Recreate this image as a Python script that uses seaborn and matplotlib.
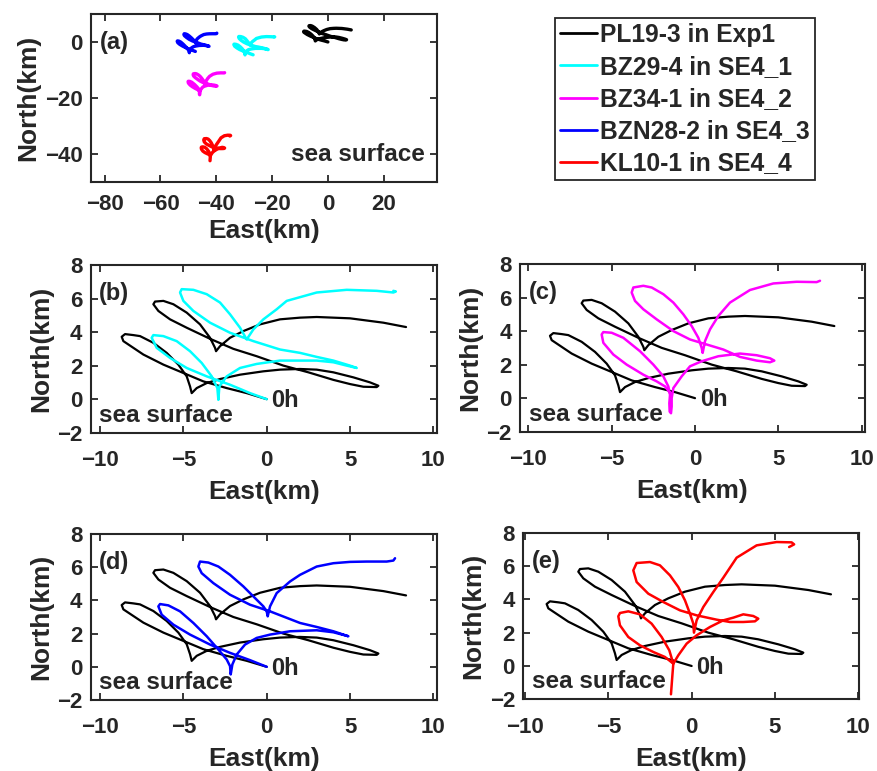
import matplotlib.pyplot as plt
import seaborn as sns
import numpy as np

# drifter tracks, km east/north of the 0h release point
exp1_east = [0, -1.2, -2.4, -3.8, -5.0, -6.2, -7.4, -8.6, -8.7, -8.5, -8.0, -7.6, -6.8, -6.0, -5.3, -4.8, -4.6, -4.5, -4.2, -3.6,
             -2.8, -1.6, -0.2, 0.8, 2.0, 3.0, 4.0, 5.2, 6.2, 6.7, 6.6, 5.8, 5.0, 4.0, 2.5, 1.0, -0.6, -2.0, -3.4, -4.8,
             -5.8, -6.5, -6.8, -6.7, -6.2, -5.6, -4.8, -4.0, -3.4, -3.1, -3.04, -2.8, -2.2, -1.4, -0.4, 0.8, 2.0, 3.0, 5.0, 7.0, 8.36]
exp1_north = [0, 0.36, 0.66, 1.06, 1.56, 2.06, 2.66, 3.46, 3.72, 3.88, 3.82, 3.76, 3.36, 2.76, 2.06, 1.36, 0.76, 0.36, 0.66, 0.96,
              1.2, 1.46, 1.66, 1.76, 1.8, 1.76, 1.6, 1.3, 1.0, 0.8, 0.72, 0.74, 0.9, 1.15, 1.6, 2.0, 2.56, 3.0, 3.6, 4.26,
              4.76, 5.26, 5.66, 5.82, 5.86, 5.66, 5.16, 4.46, 3.66, 3.06, 2.86, 3.16, 3.66, 4.06, 4.46, 4.76, 4.86, 4.9, 4.82, 4.56, 4.3]

se41_east = [0, -1.0, -2.2, -3.6, -4.8, -5.8, -6.6, -6.9, -6.8, -6.2, -5.4, -4.6, -3.9, -3.3, -2.96, -2.9, -2.84, -2.4, -1.6, -0.6,
             0.8, 2.0, 3.0, 4.0, 4.8, 5.4, 5.0, 4.0, 3.0, 2.0, 0.8, -0.8, -2.2, -3.4, -4.4, -5.0, -5.2, -5.1, -4.4, -3.6,
             -2.8, -2.2, -1.6, -1.2, -0.8, -0.2, 0.6, 1.2, 3.0, 4.8, 6.6, 7.6, 7.75, 7.6]
se41_north = [0, 0.36, 0.86, 1.36, 1.86, 2.46, 3.06, 3.66, 3.82, 3.76, 3.46, 2.86, 2.16, 1.36, 0.66, -0.04, 0.76, 1.36, 1.86, 2.1,
              2.3, 2.3, 2.3, 2.2, 2.0, 1.86, 2.0, 2.3, 2.52, 2.76, 2.96, 3.46, 3.96, 4.56, 5.26, 5.86, 6.36, 6.56, 6.52, 6.26,
              5.76, 5.06, 4.26, 3.56, 4.16, 4.76, 5.36, 5.86, 6.36, 6.52, 6.46, 6.36, 6.42, 6.46]

se42_east = [-1.45, -1.8, -2.3, -3.1, -4.1, -4.9, -5.5, -5.6, -5.5, -5.0, -4.3, -3.3, -2.5, -1.9, -1.6, -1.5, -1.54, -1.52, -1.44, -1.4,
             -1.4, -1.3, -0.8, -0.3, 0.4, 1.4, 2.7, 3.7, 4.5, 4.76, 4.5, 3.7, 2.7, 1.7, 0.7, -0.3, -1.3, -2.3, -3.1, -3.6,
             -3.8, -3.7, -3.1, -2.6, -1.9, -1.3, -0.7, -0.2, 0.2, 0.4, 0.46, 0.6, 0.9, 1.4, 2.1, 3.3, 4.7, 6.1, 7.3, 7.5]
se42_north = [0.25, 0.7, 1.0, 1.4, 2.0, 2.6, 3.3, 3.8, 3.94, 3.9, 3.6, 2.8, 2.0, 1.3, 0.7, 0.2, -0.3, -0.8, -0.9, -0.5,
              0.0, 0.6, 1.3, 1.9, 2.2, 2.5, 2.66, 2.56, 2.38, 2.24, 2.14, 2.24, 2.46, 2.9, 3.2, 3.5, 4.0, 4.7, 5.3, 5.8,
              6.3, 6.6, 6.7, 6.6, 6.2, 5.7, 5.0, 4.3, 3.6, 3.0, 2.7, 3.4, 4.1, 4.9, 5.7, 6.45, 6.84, 6.94, 6.92, 7.0]

se43_east = [0, -1.0, -2.2, -3.4, -4.6, -5.6, -6.3, -6.5, -6.4, -5.9, -5.2, -4.4, -3.6, -2.9, -2.4, -2.2, -2.16, -2.06, -1.8, -1.3,
             -0.6, 0.2, 1.4, 3.0, 4.0, 4.9, 4.0, 3.0, 2.0, 0.2, -1.0, -2.2, -3.2, -3.9, -4.1, -4.0, -3.5, -2.9, -2.2, -1.4,
             -0.7, -0.2, 0.0, 0.06, 0.2, 0.6, 1.4, 2.0, 3.0, 4.0, 5.0, 6.0, 7.2, 7.6, 7.7]
se43_north = [0, 0.4, 0.84, 1.34, 1.94, 2.54, 3.14, 3.64, 3.78, 3.7, 3.34, 2.64, 1.84, 1.04, 0.44, 0.04, -0.46, 0.14, 0.74, 1.34,
              1.74, 1.94, 2.14, 2.2, 2.08, 1.84, 2.14, 2.4, 2.64, 3.34, 3.74, 4.34, 5.04, 5.64, 6.04, 6.34, 6.28, 6.04, 5.54, 4.84,
              4.14, 3.64, 3.34, 3.04, 3.64, 4.44, 5.14, 5.54, 6.04, 6.24, 6.32, 6.34, 6.34, 6.4, 6.54]

se44_east = [-1.24, -1.15, -1.1, -1.6, -2.3, -3.1, -3.8, -4.3, -4.4, -4.3, -3.8, -3.1, -2.4, -1.8, -1.34, -1.1, -0.8, -0.3, 0.3, 1.1,
             1.9, 2.5, 3.1, 3.7, 4.0, 3.8, 3.1, 2.3, 1.5, 0.3, -0.7, -1.7, -2.6, -3.3, -3.5, -3.3, -2.5, -1.9, -1.3, -0.8,
             -0.4, -0.1, 0.1, 0.14, 0.3, 0.7, 1.3, 1.9, 2.7, 3.9, 5.1, 6.0, 6.15, 5.85]
se44_north = [-1.7, -0.5, 0.14, 0.54, 0.84, 1.24, 1.74, 2.44, 2.98, 3.18, 3.28, 3.1, 2.54, 1.74, 0.94, 0.14, 0.64, 1.34, 1.84, 2.34,
              2.74, 2.9, 3.1, 3.0, 2.84, 2.68, 2.64, 2.64, 2.78, 3.04, 3.34, 3.84, 4.34, 5.04, 5.74, 6.18, 6.24, 6.04, 5.44, 4.74,
              3.94, 3.14, 2.54, 2.0, 2.74, 3.54, 4.44, 5.3, 6.5, 7.24, 7.44, 7.42, 7.3, 7.14]

track_names = ['PL19-3 in Exp1', 'BZ29-4 in SE4_1', 'BZ34-1 in SE4_2', 'BZN28-2 in SE4_3', 'KL10-1 in SE4_4']
track_colors = ['black', '#00FFFF', '#FF00FF', '#0000FF', '#FF0000']
# release point of each drifter on the shared map of panel (a)
release_east = [0, -26.8, -44.5, -47.5, -41.0]
release_north = [0, -4.6, -18.0, -3.4, -40.8]

tracks_east = [exp1_east, se41_east, se42_east, se43_east, se44_east]
tracks_north = [exp1_north, se41_north, se42_north, se43_north, se44_north]

sns.set_style('ticks')
plt.rcParams['font.family'] = 'Liberation Sans'
plt.rcParams['font.weight'] = 'bold'
plt.rcParams['axes.labelweight'] = 'bold'

fig = plt.figure(figsize=(8.78, 7.71), dpi=100)

def add_panel(x0, y0, x1, y1):  # pixel box -> figure axes
    return fig.add_axes([x0/878, 1-y1/771, (x1-x0)/878, (y1-y0)/771])

def style(ax, xpad, labelpad):
    for s in ax.spines.values():
        s.set_linewidth(1.5)
        s.set_color('#262626')
    ax.tick_params(direction='in', length=5, width=1.3, top=True, right=True, labelsize=16, colors='#262626')
    ax.tick_params(axis='x', pad=xpad)
    ax.tick_params(axis='y', pad=6)
    ax.set_xlabel('East(km)', fontsize=19, labelpad=labelpad)
    ax.set_ylabel('North(km)', fontsize=19, labelpad=3)

#panel (a): all drifters on one map
ax_a = add_panel(90.7, 14, 436.7, 181.7)
for i in range(5):
    sns.lineplot(x=np.array(tracks_east[i])+release_east[i], y=np.array(tracks_north[i])+release_north[i],
                 sort=False, estimator=None, color=track_colors[i], lw=2.4, label=track_names[i], ax=ax_a)
ax_a.set_xlim(-85, 39)
ax_a.set_ylim(-50, 10)
ax_a.set_xticks([-80, -60, -40, -20, 0, 20])
ax_a.set_yticks([-40, -20, 0])
style(ax_a, 9, 3)
ax_a.text(0.027, 0.83, '(a)', transform=ax_a.transAxes, fontsize=17, va='center', ha='left')
ax_a.text(0.965, 0.16, 'sea surface', transform=ax_a.transAxes, fontsize=17.5, va='center', ha='right')
handles, labels = ax_a.get_legend_handles_labels()
if ax_a.get_legend() is not None:
    ax_a.get_legend().remove()

#panels (b)-(e): each SE4 drifter against the Exp1 drifter
boxes = [(90.7, 265, 436.7, 432.7), (520, 264, 865, 431.7), (90.7, 534, 436.7, 700), (523.3, 532.7, 859.3, 699.3)]
xlims = [(-10.56, 10.2), (-10.5, 10.2), (-10.56, 10.2), (-10.1, 10.06)]
tags = ['(b)', '(c)', '(d)', '(e)']
for k in range(4):
    ax = add_panel(*boxes[k])
    sns.lineplot(x=exp1_east, y=exp1_north, sort=False, estimator=None, color='black', lw=1.6, ax=ax)
    sns.lineplot(x=tracks_east[k+1], y=tracks_north[k+1], sort=False, estimator=None, color=track_colors[k+1], lw=1.8, ax=ax)
    ax.set_xlim(*xlims[k])
    ax.set_ylim(-2, 8)
    ax.set_xticks([-10, -5, 0, 5, 10])
    ax.set_yticks([-2, 0, 2, 4, 6, 8])
    style(ax, 12.5, 6.5)
    ax.text(0.025, 0.83, tags[k], transform=ax.transAxes, fontsize=17, va='center', ha='left')
    ax.text(0.025, 0.105, 'sea surface', transform=ax.transAxes, fontsize=17.5, va='center', ha='left')
    ax.text(0.28, -0.1, '0h', fontsize=17, va='center', ha='left')

leg = fig.legend(handles, labels, loc='upper left', bbox_to_anchor=(555/878, 1-18/771), frameon=True, fancybox=False,
                 edgecolor='#262626', framealpha=1, handlelength=1.5, handletextpad=0.15, borderpad=0.2,
                 labelspacing=0.33, borderaxespad=0, prop={'weight': 'bold', 'size': 17.7})
leg.get_frame().set_linewidth(1.3)
for h in leg.legend_handles:
    h.set_linewidth(2)

plt.savefig('out.png', dpi=100)
